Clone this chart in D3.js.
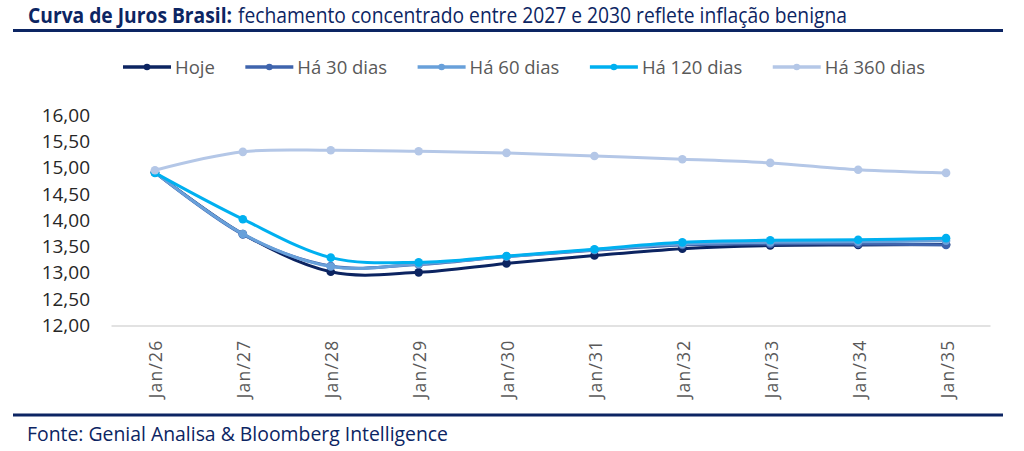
<!DOCTYPE html>
<html>
<head>
<meta charset="utf-8">
<script src="https://cdn.jsdelivr.net/npm/d3@7"></script>
<style>
    body { margin: 0; background: #fff; }
    text { font-family: "Open Sans", sans-serif; }
</style>
</head>
<body>
<script>
//chart data
var categories = ["Jan/26", "Jan/27", "Jan/28", "Jan/29", "Jan/30", "Jan/31", "Jan/32", "Jan/33", "Jan/34", "Jan/35"];
var seriesNames = ["Hoje", "Há 30 dias", "Há 60 dias", "Há 120 dias", "Há 360 dias"];
var hoje = [14.91, 13.74, 13.02, 13.01, 13.18, 13.33, 13.46, 13.52, 13.53, 13.54];
var ha30 = [14.91, 13.73, 13.13, 13.16, 13.31, 13.43, 13.53, 13.55, 13.55, 13.53];
var ha60 = [14.91, 13.74, 13.12, 13.17, 13.31, 13.44, 13.55, 13.58, 13.59, 13.61];
var ha120 = [14.90, 14.02, 13.29, 13.20, 13.32, 13.45, 13.58, 13.62, 13.63, 13.66];
var ha360 = [14.95, 15.30, 15.33, 15.31, 15.28, 15.22, 15.16, 15.09, 14.96, 14.90];
var yTicks = [12, 12.5, 13, 13.5, 14, 14.5, 15, 15.5, 16];
var titleBold = "Curva de Juros Brasil:";
var titleRest = "fechamento concentrado entre 2027 e 2030 reflete inflação benigna";
var source = "Fonte: Genial Analisa & Bloomberg Intelligence";

window.onload = function(){
    var w = 1024, h = 451;
    var navy = "#0c2563";

    var svg = d3.select("body")
        .append("svg")
        .attr("width", w)
        .attr("height", h)
        .attr("class", "container");

    /**** header and footer ****/
    svg.append("text")
        .attr("x", 28)
        .attr("y", 23)
        .attr("textLength", 204)
        .attr("lengthAdjust", "spacingAndGlyphs")
        .style("font-size", "21px")
        .style("font-weight", "700")
        .style("fill", navy)
        .text(titleBold);
    svg.append("text")
        .attr("x", 238)
        .attr("y", 23)
        .attr("textLength", 609)
        .attr("lengthAdjust", "spacingAndGlyphs")
        .style("font-size", "21px")
        .style("fill", navy)
        .text(titleRest);
    svg.append("rect") //top rule
        .attr("x", 13).attr("y", 29)
        .attr("width", 990).attr("height", 3)
        .style("fill", navy);
    svg.append("rect") //bottom rule
        .attr("x", 13).attr("y", 413.5)
        .attr("width", 990).attr("height", 3)
        .style("fill", navy);
    svg.append("text")
        .attr("x", 27)
        .attr("y", 441)
        .attr("textLength", 421)
        .attr("lengthAdjust", "spacingAndGlyphs")
        .style("font-size", "20px")
        .style("fill", navy)
        .text(source);

    /**** scales ****/
    var x = d3.scalePoint()
        .domain(categories)
        .range([111, 990])
        .padding(0.5);
    var y = d3.scaleLinear()
        .domain([12, 16])
        .range([325.5, 115]);
    var color = d3.scaleOrdinal()
        .domain(seriesNames)
        .range(["#0c2461", "#3f64ad", "#68a0da", "#00b0f0", "#b4c7e7"]);

    var locale = d3.formatLocale({decimal: ",", thousands: ".", grouping: [3], currency: ["R$", ""]});
    var fmt = locale.format(".2f");

    /**** axes ****/
    var yAxis = d3.axisLeft(y)
        .tickValues(yTicks)
        .tickSize(0)
        .tickPadding(0)
        .tickFormat(fmt);
    var yG = svg.append("g")
        .attr("class", "yaxis")
        .attr("transform", "translate(90,0)")
        .call(yAxis);
    yG.select(".domain").remove();
    yG.selectAll("text")
        .style("font-size", "19px")
        .style("fill", "#262626")
        .style("font-family", "'Open Sans', sans-serif");

    var xAxis = d3.axisBottom(x)
        .tickSize(0);
    var xG = svg.append("g")
        .attr("class", "xaxis")
        .attr("transform", "translate(0," + y(12) + ")")
        .call(xAxis);
    xG.select(".domain")
        .style("stroke", "#d9d9d9")
        .style("stroke-width", 1.5);
    xG.selectAll("text")
        .attr("transform", "rotate(-90)")
        .attr("text-anchor", "end")
        .attr("x", -14)
        .attr("y", 0)
        .attr("dy", "0.4em")
        .style("font-size", "17.5px")
        .style("letter-spacing", "1.2px")
        .style("fill", "#595959")
        .style("font-family", "'Open Sans', sans-serif");

    /**** lines ****/
    var series = [hoje, ha30, ha60, ha120, ha360].map(function(vals, i){
        return {name: seriesNames[i], values: vals};
    });

    var line = d3.line()
        .x(function(d, i){ return x(categories[i]); })
        .y(function(d){ return y(d); })
        .curve(d3.curveCardinal);

    var groups = svg.selectAll(".series")
        .data(series)
        .enter()
        .append("g")
        .attr("class", "series");

    groups.append("path")
        .attr("d", function(d){ return line(d.values); })
        .style("fill", "none")
        .style("stroke", function(d){ return color(d.name); })
        .style("stroke-width", 3)
        .style("stroke-linecap", "round");

    groups.selectAll("circle")
        .data(function(d){
            return d.values.map(function(v, i){ return {name: d.name, v: v, c: categories[i]}; });
        })
        .enter()
        .append("circle")
        .attr("cx", function(d){ return x(d.c); })
        .attr("cy", function(d){ return y(d.v); })
        .attr("r", 4.3)
        .style("fill", function(d){ return color(d.name); });

    /**** legend ****/
    var legend = svg.append("g").attr("class", "legend");
    var lx = 123, ly = 67;
    seriesNames.forEach(function(name){
        var item = legend.append("g");
        item.append("line")
            .attr("x1", lx).attr("x2", lx + 48)
            .attr("y1", ly).attr("y2", ly)
            .style("stroke", color(name))
            .style("stroke-width", 3.5);
        item.append("circle")
            .attr("cx", lx + 24).attr("cy", ly)
            .attr("r", 3.3)
            .style("fill", color(name));
        var t = item.append("text")
            .attr("x", lx + 52)
            .attr("y", ly)
            .attr("dy", "0.36em")
            .style("font-size", "18.5px")
            .style("fill", "#595959")
            .text(name);
        lx += 52 + t.node().getComputedTextLength() + 30.5;
    });
};
</script>
</body>
</html>
